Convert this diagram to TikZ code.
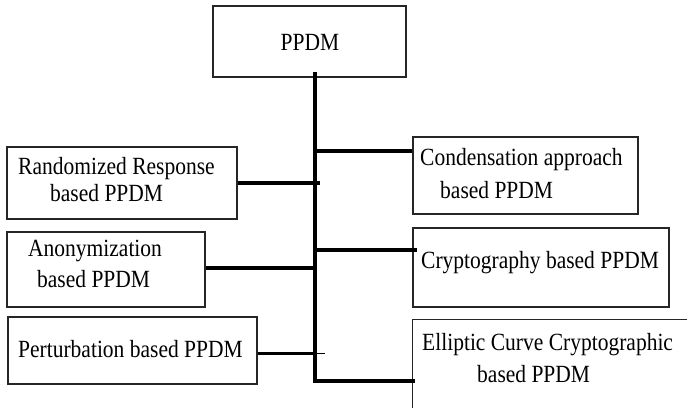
\documentclass[tikz,border=0pt]{standalone}
\usepackage{fontspec}
\setmainfont{Liberation Serif}
\usepackage{graphicx}
\usetikzlibrary{calc}
\newcommand{\vstr}[1]{\scalebox{1}[1.15]{#1}}
\begin{document}
\begin{tikzpicture}[x=1pt,y=-1pt,
  box/.style={draw=black!85, line width=1.2pt, inner sep=0pt, rectangle},
  txt/.style={anchor=base west, inner sep=0pt, font=\fontsize{21.5}{26}\selectfont},
  conn/.style={line width=4.6pt}]
\useasboundingbox[fill=white] (0,0) rectangle (687,407);
% boxes
\node[box, minimum width=193pt, minimum height=71pt] (ppdm) at (309.5,41.5) {};
\node[box, minimum width=230pt, minimum height=72pt] (rr) at (122,183) {};
\node[box, minimum width=198pt, minimum height=75pt] (anon) at (106,269.5) {};
\node[box, minimum width=249pt, minimum height=67pt] (pert) at (132.5,350.5) {};
\node[box, minimum width=225pt, minimum height=77pt] (cond) at (525.5,175.5) {};
\node[box, minimum width=256pt, minimum height=79pt] (crypt) at (541,267.5) {};
\node[inner sep=0pt, minimum width=287pt, minimum height=100pt] (ell) at (556.5,370) {};
\draw[draw=black!85, line width=1.2pt] (ell.south west) -- (ell.north west) -- (ell.north east);
% texts
\node[txt, anchor=base] (ppdmt) at (310,50) {\vstr{PPDM}};
\node[txt] (rrt1) at (18,174) {\vstr{Randomized Response}};
\node[txt] (rrt2) at (50,201) {\vstr{based PPDM}};
\node[txt] (anont1) at (28,256) {\vstr{Anonymization}};
\node[txt] (anont2) at (37,287) {\vstr{based PPDM}};
\node[txt] (pertt) at (18,357) {\vstr{Perturbation based PPDM}};
\node[txt] (condt1) at (420,165) {\vstr{Condensation approach}};
\node[txt] (condt2) at (440,198) {\vstr{based PPDM}};
\node[txt] (cryptt) at (421,268) {\vstr{Cryptography based PPDM}};
\node[txt] (ellt1) at (422,350) {\vstr{Elliptic Curve Cryptographic}};
\node[txt] (ellt2) at (477,382) {\vstr{based PPDM}};
% connectors
\coordinate (tb) at (315,381);
\draw[conn] ($(ppdm.south -| tb)+(0,-6)$) -- (tb) -- ($(ell.west |- tb)+(2,0)$);
\draw[conn] (tb |- 0,151) -- (cond.west |- 0,151);
\draw[conn] (rr.east) -- ($(tb |- rr.east)+(5,0)$);
\draw[conn] (tb |- 0,250) -- ($(crypt.west |- 0,250)+(5,0)$);
\draw[conn] (anon.east |- 0,268) -- (tb |- 0,268);
\draw[line width=3pt] (pert.east |- 0,353) -- (tb |- 0,353);
\draw[line width=0.8pt] (tb |- 0,353) -- ($(tb |- 0,353)+(10,0)$);
\end{tikzpicture}
\end{document}
